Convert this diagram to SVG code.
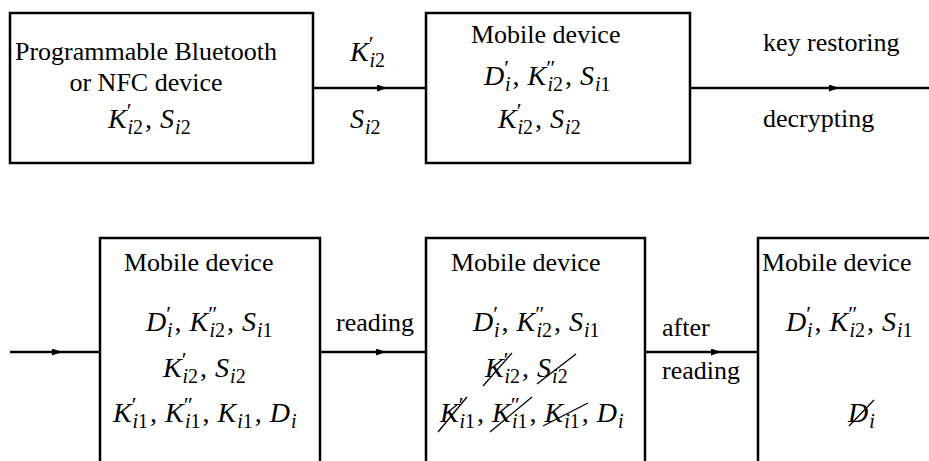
<svg xmlns="http://www.w3.org/2000/svg" width="929" height="461" viewBox="0 0 929 461">
<style>
.box{fill:#fff;stroke:#000;stroke-width:2.5}
.ln{fill:none;stroke:#000;stroke-width:2.5}
.st{stroke:#000;stroke-width:1.3}
.t{font-family:'Liberation Serif','Times New Roman','DejaVu Serif',serif;font-size:26px;fill:#000}
.m{font-family:'Liberation Serif','Times New Roman','DejaVu Serif',serif;font-size:28px;font-style:italic;fill:#000}
.s{font-size:20px}
.n{font-style:normal}
.p{font-size:22px;font-style:normal}
</style>
<defs>
<marker id="ah" markerUnits="userSpaceOnUse" markerWidth="10" markerHeight="7" refX="10" refY="3.5" orient="auto">
<path d="M0,0 L10,3.5 L0,7 z" fill="#000"/>
</marker>
</defs>
<rect width="929" height="461" fill="#fff"/>

<g id="connectors">
<path class="ln" d="M313,88 L387,88 L426,88" marker-mid="url(#ah)"/>
<path class="ln" d="M690,88 L839,88 L929,88" marker-mid="url(#ah)"/>
<path class="ln" d="M10,352 L62,352 L100,352" marker-mid="url(#ah)"/>
<path class="ln" d="M320,352 L386,352 L426,352" marker-mid="url(#ah)"/>
<path class="ln" d="M645,352 L721,352 L758,352" marker-mid="url(#ah)"/>
<text class="m" x="350" y="61">K<tspan class="p" dy="-10">′</tspan><tspan class="s" dx="-4" dy="16">i</tspan><tspan class="s n">2</tspan></text>
<text class="m" x="350" y="128">S<tspan class="s" dx="1" dy="6">i</tspan><tspan class="s n">2</tspan></text>
<text class="t" x="763" y="51">key restoring</text>
<text class="t" x="763" y="127">decrypting</text>
<text class="t" x="336" y="331">reading</text>
<text class="t" x="662" y="336">after</text>
<text class="t" x="662" y="379">reading</text>
</g>

<g id="bt-device">
<rect class="box" x="10" y="13" width="303" height="150"/>
<text class="t" x="146" y="60" text-anchor="middle">Programmable Bluetooth</text>
<text class="t" x="146" y="91" text-anchor="middle">or NFC device</text>
<text class="m" x="108" y="128">K<tspan class="p" dy="-10">′</tspan><tspan class="s" dx="-4" dy="16">i</tspan><tspan class="s n">2</tspan><tspan class="n" dx="2" dy="-6">,</tspan><tspan dx="8">S</tspan><tspan class="s" dx="1" dy="6">i</tspan><tspan class="s n">2</tspan></text>
</g>

<g id="mobile-1">
<rect class="box" x="426" y="13" width="264" height="150"/>
<text class="t" x="471" y="43">Mobile device</text>
<text class="m" x="484" y="85">D<tspan class="p" dy="-10">′</tspan><tspan class="s" dx="-4" dy="16">i</tspan><tspan class="n" dx="2" dy="-6">,</tspan><tspan dx="8">K</tspan><tspan class="p" dy="-10">″</tspan><tspan class="s" dx="-8" dy="16">i</tspan><tspan class="s n">2</tspan><tspan class="n" dx="2" dy="-6">,</tspan><tspan dx="8">S</tspan><tspan class="s" dx="1" dy="6">i</tspan><tspan class="s n">1</tspan></text>
<text class="m" x="498" y="128">K<tspan class="p" dy="-10">′</tspan><tspan class="s" dx="-4" dy="16">i</tspan><tspan class="s n">2</tspan><tspan class="n" dx="2" dy="-6">,</tspan><tspan dx="8">S</tspan><tspan class="s" dx="1" dy="6">i</tspan><tspan class="s n">2</tspan></text>
</g>

<g id="mobile-2">
<rect class="box" x="100" y="238" width="220" height="240"/>
<text class="t" x="124" y="271">Mobile device</text>
<text class="m" x="146" y="331">D<tspan class="p" dy="-10">′</tspan><tspan class="s" dx="-4" dy="16">i</tspan><tspan class="n" dx="2" dy="-6">,</tspan><tspan dx="8">K</tspan><tspan class="p" dy="-10">″</tspan><tspan class="s" dx="-8" dy="16">i</tspan><tspan class="s n">2</tspan><tspan class="n" dx="2" dy="-6">,</tspan><tspan dx="8">S</tspan><tspan class="s" dx="1" dy="6">i</tspan><tspan class="s n">1</tspan></text>
<text class="m" x="163" y="377">K<tspan class="p" dy="-10">′</tspan><tspan class="s" dx="-4" dy="16">i</tspan><tspan class="s n">2</tspan><tspan class="n" dx="2" dy="-6">,</tspan><tspan dx="8">S</tspan><tspan class="s" dx="1" dy="6">i</tspan><tspan class="s n">2</tspan></text>
<text class="m" x="113" y="422">K<tspan class="p" dy="-10">′</tspan><tspan class="s" dx="-4" dy="16">i</tspan><tspan class="s n">1</tspan><tspan class="n" dx="2" dy="-6">,</tspan><tspan dx="8">K</tspan><tspan class="p" dy="-10">″</tspan><tspan class="s" dx="-8" dy="16">i</tspan><tspan class="s n">1</tspan><tspan class="n" dx="2" dy="-6">,</tspan><tspan dx="8">K</tspan><tspan class="s" dx="1" dy="6">i</tspan><tspan class="s n">1</tspan><tspan class="n" dx="2" dy="-6">,</tspan><tspan dx="8">D</tspan><tspan class="s" dx="1" dy="6">i</tspan></text>
</g>

<g id="mobile-3">
<rect class="box" x="426" y="238" width="219" height="240"/>
<text class="t" x="451" y="271">Mobile device</text>
<text class="m" x="473" y="331">D<tspan class="p" dy="-10">′</tspan><tspan class="s" dx="-4" dy="16">i</tspan><tspan class="n" dx="2" dy="-6">,</tspan><tspan dx="8">K</tspan><tspan class="p" dy="-10">″</tspan><tspan class="s" dx="-8" dy="16">i</tspan><tspan class="s n">2</tspan><tspan class="n" dx="2" dy="-6">,</tspan><tspan dx="8">S</tspan><tspan class="s" dx="1" dy="6">i</tspan><tspan class="s n">1</tspan></text>
<text class="m" x="485" y="377">K<tspan class="p" dy="-10">′</tspan><tspan class="s" dx="-4" dy="16">i</tspan><tspan class="s n">2</tspan><tspan class="n" dx="2" dy="-6">,</tspan><tspan dx="8">S</tspan><tspan class="s" dx="1" dy="6">i</tspan><tspan class="s n">2</tspan></text>
<text class="m" x="440" y="422">K<tspan class="p" dy="-10">′</tspan><tspan class="s" dx="-4" dy="16">i</tspan><tspan class="s n">1</tspan><tspan class="n" dx="2" dy="-6">,</tspan><tspan dx="8">K</tspan><tspan class="p" dy="-10">″</tspan><tspan class="s" dx="-8" dy="16">i</tspan><tspan class="s n">1</tspan><tspan class="n" dx="2" dy="-6">,</tspan><tspan dx="8">K</tspan><tspan class="s" dx="1" dy="6">i</tspan><tspan class="s n">1</tspan><tspan class="n" dx="2" dy="-6">,</tspan><tspan dx="8">D</tspan><tspan class="s" dx="1" dy="6">i</tspan></text>
<line class="st" x1="483" y1="386" x2="512" y2="353"/>
<line class="st" x1="537" y1="384" x2="576" y2="354"/>
<line class="st" x1="438" y1="432" x2="467" y2="397"/>
<line class="st" x1="490" y1="432" x2="532" y2="397"/>
<line class="st" x1="543" y1="426" x2="588" y2="403"/>
</g>

<g id="mobile-4">
<rect class="box" x="758" y="238" width="200" height="240"/>
<text class="t" x="762" y="271">Mobile device</text>
<text class="m" x="786" y="331">D<tspan class="p" dy="-10">′</tspan><tspan class="s" dx="-4" dy="16">i</tspan><tspan class="n" dx="2" dy="-6">,</tspan><tspan dx="8">K</tspan><tspan class="p" dy="-10">″</tspan><tspan class="s" dx="-8" dy="16">i</tspan><tspan class="s n">2</tspan><tspan class="n" dx="2" dy="-6">,</tspan><tspan dx="8">S</tspan><tspan class="s" dx="1" dy="6">i</tspan><tspan class="s n">1</tspan></text>
<text class="m" x="848" y="422">D<tspan class="s" dx="1" dy="6">i</tspan></text>
<line class="st" x1="849" y1="426" x2="874" y2="400"/>
</g>
</svg>
